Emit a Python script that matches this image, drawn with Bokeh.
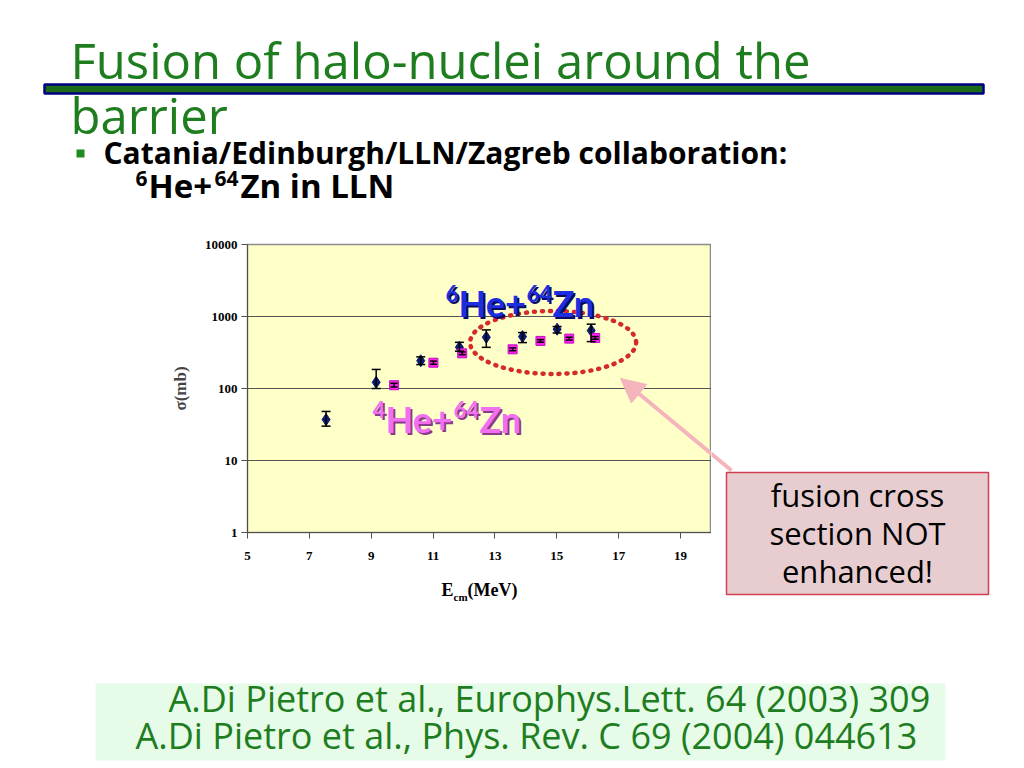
from bokeh.plotting import figure
from bokeh.models import (ColumnDataSource, Whisker, TeeHead, Label, Arrow, NormalHead,
                          FixedTicker, NumeralTickFormatter, Range1d)
from bokeh.layouts import column, row
from bokeh.core.properties import value
from bokeh.embed import file_html
from bokeh.resources import INLINE

# ---------------- data ----------------
he6_e = [7.54, 9.16, 10.60, 11.85, 12.72, 13.89, 15.01, 16.11]
he6_sigma = [37, 122, 243, 373, 515, 526, 666, 638]
he6_upper = [48, 184, 275, 438, 651, 598, 725, 782]
he6_lower = [30, 100, 215, 330, 373, 434, 590, 448]

he4_e = [9.74, 11.01, 11.94, 13.57, 14.47, 15.40, 16.24]
he4_sigma = [111, 228, 308, 350, 458, 493, 504]
he4_upper = [118, 240, 322, 366, 478, 515, 526]
he4_lower = [105, 217, 295, 335, 440, 472, 484]

x_ticks = [5, 7, 9, 11, 13, 15, 17, 19]
y_ticks = [1, 10, 100, 1000, 10000]

SERIF = "Liberation Serif"
SANS = "Open Sans"
CHART_SANS = "Lato"
GREEN = "#1e7d1e"
PINK_ARROW = "#f4b4bc"
BASE_K = 0.41          # baseline correction (fraction of font size)

TOTAL_W, TOTAL_H = 1016, 764
Y_HDR, Y_CHART_END, Y_MID_END = 228, 568, 628
X_SPLIT = 711
FL, FT = 247, 244
FR_EDGE, FB_EDGE = 711, 532


# ---------------- helpers for the slide panels (pixel coordinates) ----------------
def panel(x0, x1, y0, y1, bl=0, br=0):
    f = figure(width=x1 - x0, height=y1 - y0, output_backend="svg",
               toolbar_location=None, x_range=Range1d(x0 + bl, x1 - br),
               y_range=Range1d(y1, y0),
               x_axis_location=None, y_axis_location=None,
               min_border=0, min_border_left=bl, min_border_right=br,
               min_border_top=0, min_border_bottom=0)
    f.grid.visible = False
    f.outline_line_color = None
    f.background_fill_color = "white"
    f.border_fill_color = "white"
    return f


def txt(f, x, y, s, size, color="black", style="normal", align="left", font=SANS):
    px = float(size.replace("px", ""))
    f.text(x=[x], y=[y - BASE_K * px], text=[s], text_font=value(font),
           text_font_size=value(size), text_font_style=style, text_color=color,
           text_align=align, text_baseline="alphabetic")


def box(f, l, t, r, b, fill, line=None, lw=1):
    f.quad(left=[l], right=[r], top=[t], bottom=[b], fill_color=fill,
           line_color=line, line_width=lw)


# ---------------- header ----------------
hdr = panel(0, TOTAL_W, 0, Y_HDR)
txt(hdr, 70, 80, "Fusion of halo-nuclei around the", "49px", GREEN)
box(hdr, 44, 84, 983, 93, "#1a6b1a", "#000080", 2.5)
txt(hdr, 70, 135, "barrier", "49px", GREEN)
box(hdr, 76, 149, 84, 157, "#1f8a1f")
txt(hdr, 103, 164, "Catania/Edinburgh/LLN/Zagreb collaboration:", "30px", "black", "bold")
x = 135
for s, size, raise_, w in (("6", "21px", 12, 13), ("He+", "33px", 0, 66),
                           ("64", "21px", 12, 26), ("Zn in LLN", "33px", 0, 0)):
    txt(hdr, x, 199 - raise_, s, size, "black", "bold")
    x += w

# ---------------- chart ----------------
p = figure(width=X_SPLIT, height=Y_CHART_END - Y_HDR, output_backend="svg",
           toolbar_location=None, y_axis_type="log",
           x_range=Range1d(5, 20), y_range=Range1d(1, 10000),
           min_border_left=FL, min_border_right=X_SPLIT - FR_EDGE,
           min_border_top=FT - Y_HDR, min_border_bottom=Y_CHART_END - FB_EDGE)
p.background_fill_color = "#ffffc8"
p.border_fill_color = "white"
p.outline_line_color = "#8c8c8c"
p.outline_line_width = 1.5

for ax in (p.xaxis[0], p.yaxis[0]):
    ax.major_label_text_font = SERIF
    ax.major_label_text_font_style = "bold"
    ax.major_label_text_font_size = "13px"
    ax.major_label_text_color = "black"
    ax.axis_line_color = "#505050"
    ax.major_tick_line_color = "#505050"
    ax.major_tick_in = 0
    ax.major_tick_out = 6
    ax.minor_tick_line_color = None

p.xaxis.ticker = FixedTicker(ticks=x_ticks)
p.xaxis.major_label_standoff = 13
p.yaxis.ticker = FixedTicker(ticks=y_ticks)
p.yaxis.formatter = NumeralTickFormatter(format="0")
p.yaxis.major_label_standoff = 4
p.yaxis.axis_label = "σ(mb)"
p.yaxis.axis_label_text_font = SERIF
p.yaxis.axis_label_text_font_style = "bold"
p.yaxis.axis_label_text_font_size = "17px"
p.yaxis.axis_label_standoff = 12

p.xgrid.grid_line_color = None
p.ygrid.ticker = FixedTicker(ticks=[10, 100, 1000])
p.ygrid.grid_line_color = "#555555"
p.ygrid.grid_line_width = 1.2

src6 = ColumnDataSource(dict(x=he6_e, y=he6_sigma, up=he6_upper, lo=he6_lower))
src4 = ColumnDataSource(dict(x=he4_e, y=he4_sigma, up=he4_upper, lo=he4_lower))

p.scatter("x", "y", source=src6, marker="diamond", size=12,
          fill_color="#0c1a70", line_color="#0c1a70")
p.scatter("x", "y", source=src4, marker="square", size=9,
          fill_color="#ff22ee", line_color="#c010c0")

for src, hs in ((src6, 9), (src4, 7)):
    w = Whisker(source=src, base="x", upper="up", lower="lo",
                line_color="black", line_width=1.5,
                upper_head=TeeHead(size=hs, line_color="black", line_width=1.5),
                lower_head=TeeHead(size=hs, line_color="black", line_width=1.5))
    w.level = "overlay"
    p.add_layout(w)

# dotted ellipse round the high-energy points
p.ellipse(x=[14.88], y=[436], width=[166], height=[63],
          width_units="screen", height_units="screen",
          fill_color=None, line_color="#d42a2a", line_width=4.5,
          line_dash="1 7", line_cap="round")


def rich_label(xd, yd, segs, color, shadow):
    off = 0
    for s, size, raise_, w in segs:
        px = float(size.replace("px", ""))
        for dx, dy, c in ((2, -2, shadow), (0, 0, color)):
            p.add_layout(Label(x=xd, y=yd, text=s, x_offset=off + dx,
                               y_offset=raise_ + dy + BASE_K * px,
                               text_font=CHART_SANS, text_font_style="bold",
                               text_font_size=size, text_color=c,
                               text_baseline="alphabetic", text_align="left"))
        off += w


rich_label(11.40, 968, [("6", "22px", 15, 13), ("He+", "36px", 0, 68),
                        ("64", "22px", 15, 26), ("Zn", "36px", 0, 0)],
           "#1c2ee0", "#0a0a60")
rich_label(9.04, 23.7, [("4", "22px", 15, 13), ("He+", "36px", 0, 68),
                        ("64", "22px", 15, 26), ("Zn", "36px", 0, 0)],
           "#f070f0", "#8a3a8a")

# arrow pointing to the ellipse (tail continues in the right panel)
p.add_layout(Arrow(x_start=20.65, y_start=7.26, x_end=17.06, y_end=138,
                   line_color=PINK_ARROW, line_width=4,
                   end=NormalHead(size=24, fill_color=PINK_ARROW, line_color=PINK_ARROW)))

# ---------------- x-axis title panel (frame aligned with the chart frame) ----------------
xl = panel(0, X_SPLIT, Y_CHART_END, Y_MID_END, bl=FL, br=X_SPLIT - FR_EDGE)
txt(xl, 441, 597, "E", "18px", "black", "bold", font=SERIF)
txt(xl, 453, 601, "cm", "11px", "black", "bold", font=SERIF)
txt(xl, 467, 597, "(MeV)", "18px", "black", "bold", font=SERIF)

# ---------------- right panel: comment box ----------------
rp = panel(X_SPLIT, TOTAL_W, Y_HDR, Y_MID_END)
rp.segment(x0=[731], y0=[470], x1=[690], y1=[436], line_color=PINK_ARROW, line_width=4)
box(rp, 726, 472, 988, 594, "#e8cdd0", "#d04050", 1.5)
for i, s in enumerate(["fusion cross", "section NOT", "enhanced!"]):
    txt(rp, 857, 507 + 38 * i, s, "31px", "black", align="center")

# ---------------- bottom panel: references ----------------
bt = panel(0, TOTAL_W, Y_MID_END, TOTAL_H)
box(bt, 95, 683, 945, 760, "#e6fbe8")
txt(bt, 168, 713, "A.Di Pietro et al., Europhys.Lett. 64 (2003) 309", "36px", GREEN)
txt(bt, 135, 750, "A.Di Pietro et al., Phys. Rev. C 69 (2004) 044613", "36px", GREEN)

layout = column(hdr, row(column(p, xl), rp), bt)
open("out.html", "w").write(file_html(layout, INLINE))
